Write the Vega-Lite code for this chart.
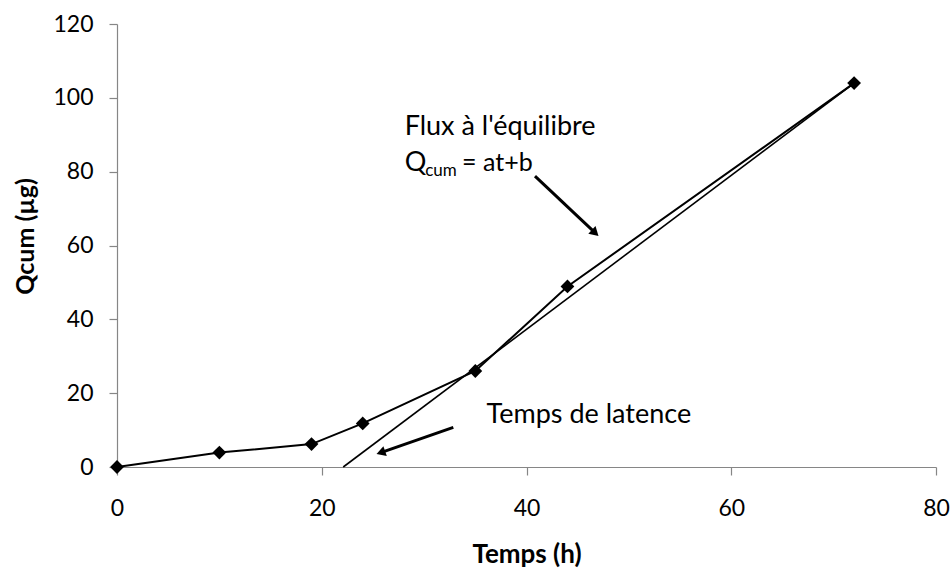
{
  "$schema": "https://vega.github.io/schema/vega-lite/v6.json",
  "autosize": {"type": "none"},
  "width": 819,
  "height": 443,
  "padding": {"left": 117, "top": 24, "right": 14, "bottom": 102},
  "background": "white",
  "config": {
    "view": {"stroke": null},
    "font": "Lato",
    "axis": {
      "grid": false,
      "ticks": true,
      "domainColor": "#868686",
      "tickColor": "#868686",
      "domainWidth": 1.2,
      "tickWidth": 1.2,
      "tickSize": 8,
      "labelFont": "Lato",
      "labelFontSize": 23,
      "labelColor": "#000000",
      "labelFlush": false,
      "labelOverlap": false,
      "titleFont": "Lato",
      "titleFontWeight": "bold",
      "titleColor": "#000000"
    },
    "axisX": {"labelPadding": 22, "titlePadding": 21, "titleFontSize": 26},
    "axisY": {"labelPadding": 16, "titlePadding": 14, "titleFontSize": 25}
  },
  "datasets": {
    "mesures": [
      {"t": 0, "q": 0},
      {"t": 10, "q": 3.9},
      {"t": 19, "q": 6.2},
      {"t": 24, "q": 11.8},
      {"t": 35, "q": 26},
      {"t": 44, "q": 48.9},
      {"t": 72, "q": 104}
    ],
    "tendance": [
      {"t": 22.1, "q": 0},
      {"t": 72, "q": 104}
    ],
    "fleches": [
      {"x": 40.83, "y": 78.8, "x2": 46.71, "y2": 63.4, "angle": 133.5},
      {"x": 32.85, "y": 10.75, "x2": 25.77, "y2": 3.9, "angle": 250.8}
    ],
    "textes": [
      {"x": 28.1, "y": 92.1, "label": "Flux à l'équilibre"},
      {"x": 28.1, "y": 82.3, "label": "Q"},
      {"x": 36.1, "y": 14.2, "label": "Temps de latence"}
    ],
    "formule": [
      {"x": 33.7, "y": 82.3, "label": "= at+b"}
    ],
    "indices": [
      {"x": 30.1, "y": 80.2, "label": "cum"}
    ]
  },
  "layer": [
    {
      "data": {"name": "tendance"},
      "mark": {"type": "line", "color": "#000000", "strokeWidth": 1.6},
      "encoding": {
        "x": {
          "field": "t", "type": "quantitative",
          "scale": {"domain": [0, 80], "nice": false},
          "axis": {"values": [0, 20, 40, 60, 80], "title": "Temps (h)"}
        },
        "y": {
          "field": "q", "type": "quantitative",
          "scale": {"domain": [0, 120], "nice": false},
          "axis": {"values": [0, 20, 40, 60, 80, 100, 120], "title": "Qcum (µg)", "titleY": 212}
        }
      }
    },
    {
      "data": {"name": "mesures"},
      "mark": {"type": "line", "color": "#000000", "strokeWidth": 2},
      "encoding": {
        "x": {"field": "t", "type": "quantitative"},
        "y": {"field": "q", "type": "quantitative"}
      }
    },
    {
      "data": {"name": "mesures"},
      "mark": {"type": "point", "shape": "diamond", "filled": true, "color": "#000000", "size": 190, "opacity": 1},
      "encoding": {
        "x": {"field": "t", "type": "quantitative"},
        "y": {"field": "q", "type": "quantitative"}
      }
    },
    {
      "data": {"name": "fleches"},
      "mark": {"type": "rule", "color": "#000000", "strokeWidth": 3},
      "encoding": {
        "x": {"field": "x", "type": "quantitative"},
        "y": {"field": "y", "type": "quantitative"},
        "x2": {"field": "x2"},
        "y2": {"field": "y2"}
      }
    },
    {
      "data": {"name": "fleches"},
      "mark": {"type": "point", "shape": "triangle-up", "filled": true, "color": "#000000", "size": 110, "opacity": 1},
      "encoding": {
        "x": {"field": "x2", "type": "quantitative"},
        "y": {"field": "y2", "type": "quantitative"},
        "angle": {"field": "angle", "type": "quantitative", "scale": null}
      }
    },
    {
      "data": {"name": "textes"},
      "mark": {"type": "text", "align": "left", "baseline": "middle", "font": "Lato", "fontSize": 27, "color": "#000000"},
      "encoding": {
        "x": {"field": "x", "type": "quantitative"},
        "y": {"field": "y", "type": "quantitative"},
        "text": {"field": "label"}
      }
    },
    {
      "data": {"name": "formule"},
      "mark": {"type": "text", "align": "left", "baseline": "middle", "font": "Lato", "fontSize": 25, "color": "#000000"},
      "encoding": {
        "x": {"field": "x", "type": "quantitative"},
        "y": {"field": "y", "type": "quantitative"},
        "text": {"field": "label"}
      }
    },
    {
      "data": {"name": "indices"},
      "mark": {"type": "text", "align": "left", "baseline": "middle", "font": "Lato", "fontSize": 17, "color": "#000000"},
      "encoding": {
        "x": {"field": "x", "type": "quantitative"},
        "y": {"field": "y", "type": "quantitative"},
        "text": {"field": "label"}
      }
    }
  ]
}
